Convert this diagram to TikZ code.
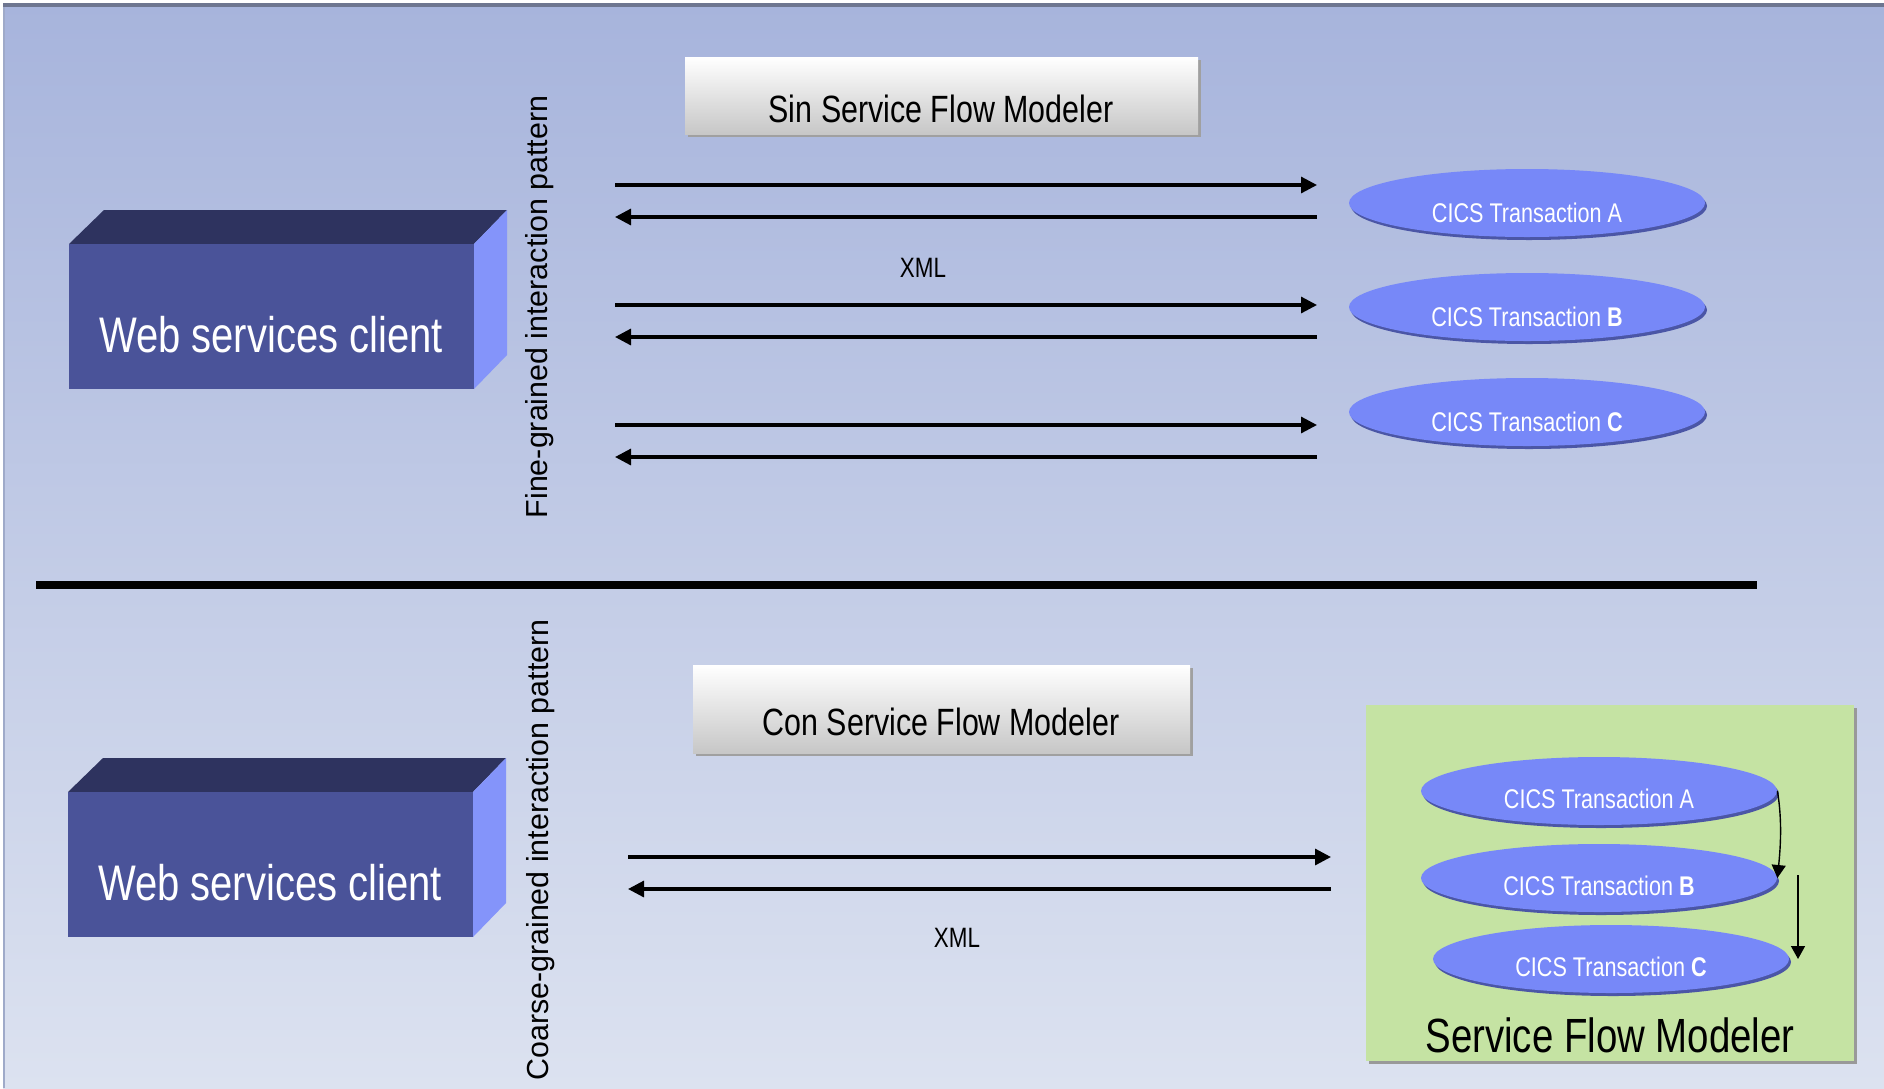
\documentclass[tikz,border=0pt]{standalone}
\usepackage{fontspec}
\setmainfont{Liberation Sans}
\newfontfamily\narrowfont[FakeStretch=0.8]{Liberation Sans}
\usetikzlibrary{shapes.geometric,shadows,arrows.meta}
\definecolor{bgtop}{HTML}{A7B4DC}
\definecolor{bgbot}{HTML}{DCE2F0}
\definecolor{rim}{HTML}{6E7690}
\definecolor{clfront}{HTML}{4A5399}
\definecolor{cltop}{HTML}{2E335F}
\definecolor{clside}{HTML}{8494FA}
\definecolor{cics}{HTML}{7788F8}
\definecolor{cicsrim}{HTML}{4B56A6}
\definecolor{sfmgreen}{HTML}{C5E3A3}
\definecolor{boxshade}{HTML}{A0A0A0}
\begin{document}
\begin{tikzpicture}[x=0.5pt,y=-0.5pt,
  cics/.style={ellipse,fill=cics,minimum width=178pt,minimum height=34pt,inner sep=0pt,
    drop shadow={shadow xshift=1pt,shadow yshift=-1.5pt,fill=cicsrim,opacity=1}},
  cicstext/.style={anchor=base,inner sep=0pt,text=white,font=\narrowfont\fontsize{13.5}{16}\selectfont},
  cltext/.style={anchor=base,inner sep=0pt,text=white,font=\narrowfont\fontsize{25}{30}\selectfont},
  modtext/.style={anchor=base,inner sep=0pt,font=\narrowfont\fontsize{19}{23}\selectfont},
  xmltext/.style={anchor=base,inner sep=0pt,font=\narrowfont\fontsize{14}{17}\selectfont},
  vtext/.style={rotate=90,anchor=base,inner sep=0pt,font=\fontsize{15.2}{18}\selectfont},
  flow/.style={line width=1.6pt,-{Triangle[length=8pt,width=8pt]}},
  seq/.style={line width=0.7pt,-{Triangle[length=6.5pt,width=7pt]}}]
\useasboundingbox (0,0) rectangle (1884,1088);
\fill[white] (0,0) rectangle (1884,1088);
\shade[top color=bgtop,bottom color=bgbot] (3,3) rectangle (1884,1088);
\fill[rim] (3,3) rectangle (1884,7);
\fill[bgtop!80!gray] (3,7) rectangle (5,1088);

\fill[cltop] (69,244) -- (104,210) -- (507,210) -- (474,244) -- cycle;
\fill[clside] (474,244) -- (507,210) -- (507,355) -- (474,389) -- cycle;
\fill[clfront] (69,244) rectangle (474,389);
\node[cltext] (web1) at (271,352) {Web services client};

\node[vtext] (fine) at (547,307) {Fine-grained interaction pattern};

\fill[boxshade] (688,60) rectangle (1201,137);
\shade[top color=white,bottom color=black!22] (685,57) rectangle (1198,134);
\node[modtext] (sin) at (941,122) {Sin Service Flow Modeler};

\node[cics] (ta) at (1527,203) {};
\node[cics] (tb) at (1527,307) {};
\node[cics] (tc) at (1527,412) {};
\node[cicstext] (tat) at (1527,222) {CICS Transaction A};
\node[cicstext] (tbt) at (1527,326) {CICS Transaction \textbf{B}};
\node[cicstext] (tct) at (1527,431) {CICS Transaction \textbf{C}};

\coordinate (fl1) at (615,185);
\coordinate (fr1) at (1317,185);
\coordinate (fl2) at (615,217);
\coordinate (fr2) at (1317,217);
\coordinate (fl3) at (615,305);
\coordinate (fr3) at (1317,305);
\coordinate (fl4) at (615,337);
\coordinate (fr4) at (1317,337);
\coordinate (fl5) at (615,425);
\coordinate (fr5) at (1317,425);
\coordinate (fl6) at (615,457);
\coordinate (fr6) at (1317,457);
\draw[flow] (fl1) -- (fr1);
\draw[flow] (fr2) -- (fl2);
\draw[flow] (fl3) -- (fr3);
\draw[flow] (fr4) -- (fl4);
\draw[flow] (fl5) -- (fr5);
\draw[flow] (fr6) -- (fl6);
\node[xmltext] (xml1) at (923,277) {XML};

\fill (36,581) rectangle (1757,589);

\fill[cltop] (68,792) -- (103,758) -- (506,758) -- (473,792) -- cycle;
\fill[clside] (473,792) -- (506,758) -- (506,903) -- (473,937) -- cycle;
\fill[clfront] (68,792) rectangle (473,937);
\node[cltext] (web2) at (270,900) {Web services client};

\node[vtext] (coarse) at (548,850) {Coarse-grained interaction pattern};

\fill[boxshade] (696,668) rectangle (1193,756);
\shade[top color=white,bottom color=black!22] (693,665) rectangle (1190,753);
\node[modtext] (con) at (941,735) {Con Service Flow Modeler};

\coordinate (cl1) at (628,857);
\coordinate (cr1) at (1331,857);
\coordinate (cl2) at (628,889);
\coordinate (cr2) at (1331,889);
\draw[flow] (cl1) -- (cr1);
\draw[flow] (cr2) -- (cl2);
\node[xmltext] (xml2) at (957,947) {XML};

\fill[black!40] (1369,708) rectangle (1857,1064);
\fill[sfmgreen] (1366,705) rectangle (1854,1061);
\node[cics] (ga) at (1599,791) {};
\node[cics] (gb) at (1599,878) {};
\node[cics] (gc) at (1611,959) {};
\node[cicstext] (gat) at (1599,808) {CICS Transaction A};
\node[cicstext] (gbt) at (1599,895) {CICS Transaction \textbf{B}};
\node[cicstext] (gct) at (1611,976) {CICS Transaction \textbf{C}};
\draw[seq] (ga.east) .. controls +(5,30) and +(3,-30) .. (gb.east);
\coordinate (gbc) at (1798,875);
\draw[seq] (gbc) -- (gc.east -| gbc);
\node[modtext,font=\narrowfont\fontsize{24}{29}\selectfont] (sfm) at (1610,1052) {Service Flow Modeler};
\end{tikzpicture}
\end{document}
